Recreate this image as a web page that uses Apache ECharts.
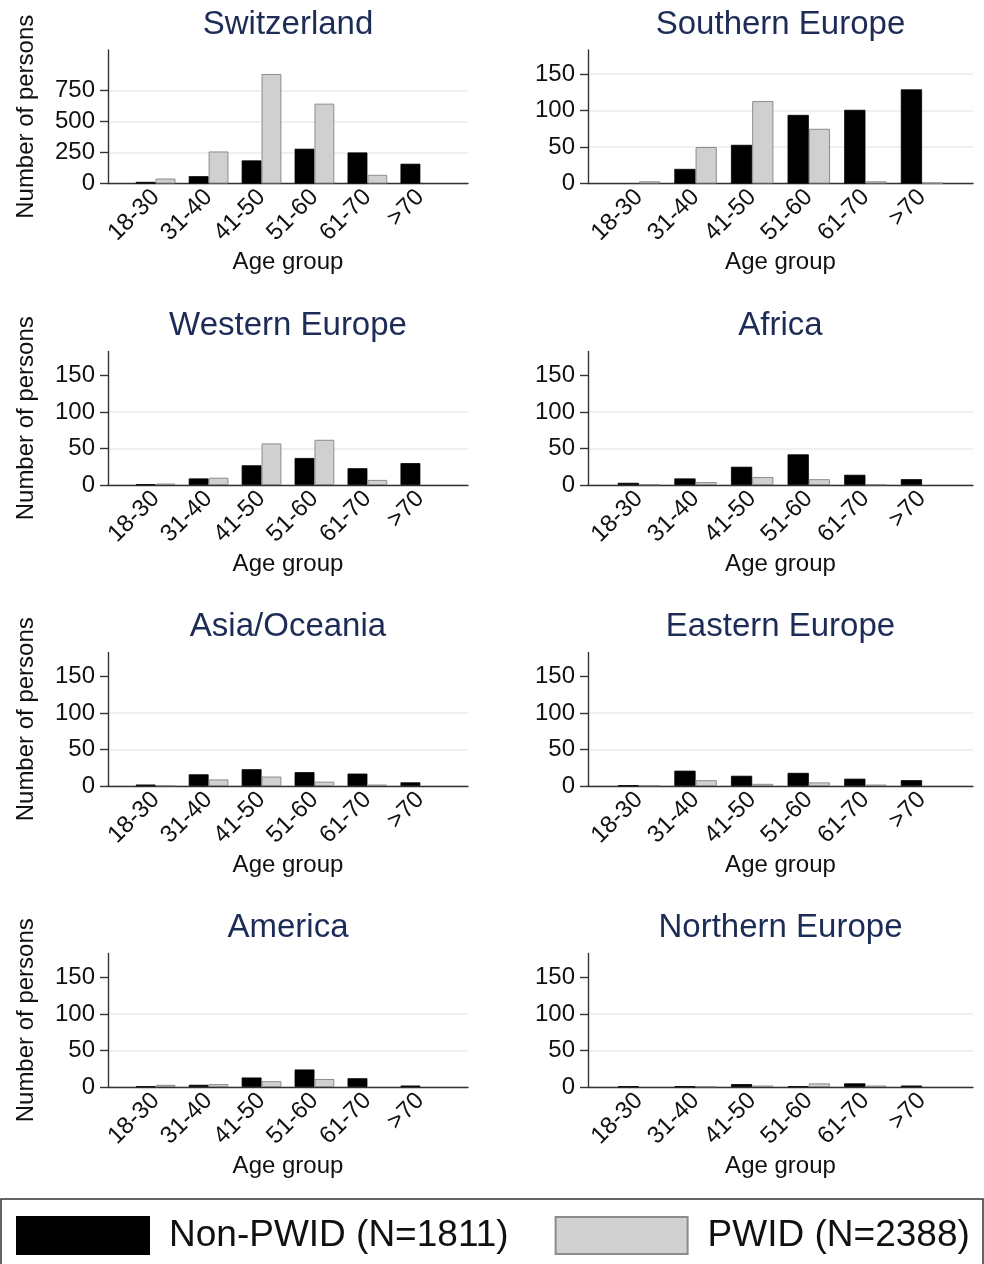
<!DOCTYPE html>
<html>
<head>
<meta charset="utf-8">
<script src="https://cdn.jsdelivr.net/npm/echarts@6/dist/echarts.min.js"></script>
<style>
html,body{margin:0;padding:0;background:#fff;}
#chart{width:984px;height:1264px;}
</style>
</head>
<body>
<div id="chart"></div>
<script>
// ---- data ----
const ageGroups = ['18-30', '31-40', '41-50', '51-60', '61-70', '>70'];
const regions = ['Switzerland', 'Southern Europe', 'Western Europe', 'Africa',
                 'Asia/Oceania', 'Eastern Europe', 'America', 'Northern Europe'];
const seriesNames = ['Non-PWID (N=1811)', 'PWID (N=2388)'];

const nonPwidSwitzerland = [13, 59, 186, 280, 250, 159];
const pwidSwitzerland    = [40, 258, 882, 643, 70, 0];
const nonPwidSouthern    = [0, 20, 53, 94, 101, 129];
const pwidSouthern       = [3, 50, 113, 75, 3, 1];
const nonPwidWestern     = [1, 9, 27, 37, 23, 30];
const pwidWestern        = [2, 10, 57, 62, 7, 0];
const nonPwidAfrica      = [3, 9, 25, 42, 14, 8];
const pwidAfrica         = [1, 4, 11, 8, 1, 0];
const nonPwidAsia        = [2, 16, 23, 19, 17, 5];
const pwidAsia           = [1, 9, 13, 6, 2, 0];
const nonPwidEastern     = [1, 21, 14, 18, 10, 8];
const pwidEastern        = [1, 8, 3, 5, 2, 0];
const nonPwidAmerica     = [1, 3, 13, 24, 12, 2];
const pwidAmerica        = [3, 4, 8, 11, 0, 0];
const nonPwidNorthern    = [1, 1, 4, 1, 5, 2];
const pwidNorthern       = [0, 1, 2, 5, 2, 0];

const yTicksSwitzerland = [0, 250, 500, 750];
const yTicksOther = [0, 50, 100, 150];

const nonPwidByRegion = [nonPwidSwitzerland, nonPwidSouthern, nonPwidWestern, nonPwidAfrica,
                         nonPwidAsia, nonPwidEastern, nonPwidAmerica, nonPwidNorthern];
const pwidByRegion = [pwidSwitzerland, pwidSouthern, pwidWestern, pwidAfrica,
                      pwidAsia, pwidEastern, pwidAmerica, pwidNorthern];

// ---- layout ----
const FONT = 'Liberation Sans';
const rowTops = [50, 351.5, 652.5, 953.5];
const plotH = 133.5;
const colLeft = [108, 588];
const colWidth = [360, 385];
const gridColor = '#e6eef0';
const axisColor = '#333';

const grids = [], xAxes = [], yAxes = [], titles = [], series = [];
const catPos = ageGroups.map((_, i) => i + 1);
const toPoints = arr => arr.map((v, k) => [catPos[k], v === 0 ? '-' : v]);

regions.forEach((name, i) => {
  const col = i % 2, row = Math.floor(i / 2);
  const isSwiss = i === 0;
  const ticks = isSwiss ? yTicksSwitzerland : yTicksOther;
  const showTopGrid = (i === 0 || i === 1);
  grids.push({ left: colLeft[col], top: rowTops[row], width: colWidth[col], height: plotH });
  titles.push({
    text: name,
    left: colLeft[col] + colWidth[col] / 2,
    top: rowTops[row] - 42,
    textAlign: 'center',
    padding: 0,
    textStyle: { fontFamily: FONT, fontSize: 33, fontWeight: 'normal', color: '#1d2c57' }
  });
  xAxes.push({
    type: 'value', gridIndex: i, min: 0.1, max: 6.9,
    name: 'Age group', nameLocation: 'middle', nameGap: 67,
    nameTextStyle: { fontFamily: FONT, fontSize: 24, color: '#111' },
    axisLine: { show: true, onZero: false, lineStyle: { color: axisColor, width: 1.4 } },
    axisTick: { show: false, customValues: catPos },
    splitLine: { show: false },
    axisLabel: {
      customValues: catPos, rotate: 45, margin: 10,
      fontFamily: FONT, fontSize: 24, color: '#111',
      formatter: v => ageGroups[Math.round(v) - 1]
    }
  });
  yAxes.push({
    type: 'value', gridIndex: i, min: 0, max: isSwiss ? 1075 : 183,
    name: col === 0 ? 'Number of persons' : '',
    nameLocation: 'middle', nameGap: 70, nameRotate: 90,
    nameTextStyle: { fontFamily: FONT, fontSize: 24, color: '#111' },
    axisLine: { show: true, lineStyle: { color: axisColor, width: 1.4 } },
    axisTick: { show: true, length: 8, customValues: ticks, lineStyle: { color: axisColor, width: 1.4 } },
    axisLabel: { customValues: ticks, margin: 13, fontFamily: FONT, fontSize: 24, color: '#111' },
    splitLine: {
      show: true,
      lineStyle: { width: 1.5, color: showTopGrid ? [gridColor] : [gridColor, gridColor, gridColor, 'rgba(0,0,0,0)'] }
    }
  });
  series.push({
    type: 'bar', name: seriesNames[0], xAxisIndex: i, yAxisIndex: i,
    barWidth: '37.5%', barGap: '0%',
    itemStyle: { color: '#000', borderColor: '#000', borderWidth: 0.8 },
    data: toPoints(nonPwidByRegion[i])
  });
  series.push({
    type: 'bar', name: seriesNames[1], xAxisIndex: i, yAxisIndex: i,
    barWidth: '37.5%', barGap: '0%',
    itemStyle: { color: '#d0d0d0', borderColor: '#8c8c8c', borderWidth: 1 },
    data: toPoints(pwidByRegion[i])
  });
});

const chart = echarts.init(document.getElementById('chart'), null, { renderer: 'canvas' });
chart.setOption({
  backgroundColor: '#fff',
  animation: false,
  title: titles,
  grid: grids,
  xAxis: xAxes,
  yAxis: yAxes,
  series: series,
  legend: {
    data: seriesNames,
    left: 16, top: 1216,
    padding: 0,
    orient: 'horizontal',
    itemWidth: 132, itemHeight: 37, itemGap: 46,
    icon: 'rect',
    selectedMode: false,
    textStyle: { fontFamily: FONT, fontSize: 37, color: '#111', padding: [2, 0, 0, 15] }
  },
  graphic: [{
    type: 'rect', silent: true,
    shape: { x: 1, y: 1199, width: 982, height: 70 },
    style: { fill: 'none', stroke: '#333', lineWidth: 1.5 }
  }]
});
</script>
</body>
</html>
